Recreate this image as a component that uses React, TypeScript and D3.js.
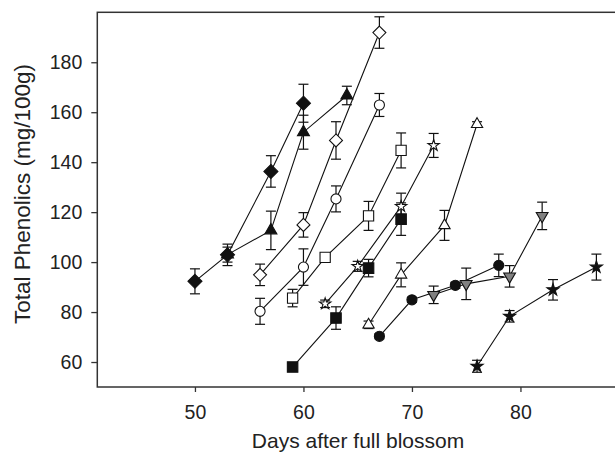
import React, { useRef, useEffect } from "react";
import * as d3 from "d3";

// each series: day after full blossom, total phenolics (mg/100g), error
const filledDiamond = [
  { day: 50, value: 92.3, err: 5 },
  { day: 53, value: 102.9, err: 4.3 },
  { day: 57, value: 136.3, err: 6.3 },
  { day: 60, value: 163.6, err: 7.6 },
];
const filledTriangle = [
  { day: 53, value: 103, err: 3 },
  { day: 57, value: 112.7, err: 7.7 },
  { day: 60, value: 152, err: 6.8 },
  { day: 64, value: 166.7, err: 3.7 },
];
const openDiamond = [
  { day: 56, value: 94.9, err: 4.3 },
  { day: 60, value: 114.9, err: 4.9 },
  { day: 63, value: 148.7, err: 7.5 },
  { day: 67, value: 191.9, err: 6.3 },
];
const openCircle = [
  { day: 56, value: 80.3, err: 5.2 },
  { day: 60, value: 98, err: 7.3 },
  { day: 63, value: 125.3, err: 5.2 },
  { day: 67, value: 162.9, err: 4.6 },
];
const openSquare = [
  { day: 59, value: 85.6, err: 3.5 },
  { day: 62, value: 101.9, err: 1 },
  { day: 66, value: 118.5, err: 5.8 },
  { day: 69, value: 144.7, err: 7 },
];
const openStar = [
  { day: 62, value: 83.3, err: 1.5 },
  { day: 65, value: 98.3, err: 2 },
  { day: 69, value: 122.3, err: 5.3 },
  { day: 72, value: 146.7, err: 4.8 },
];
const filledSquare = [
  { day: 59, value: 58, err: 1.5 },
  { day: 63, value: 77.6, err: 4.5 },
  { day: 66, value: 97.6, err: 3.5 },
  { day: 69, value: 117.2, err: 6.5 },
];
const openTriangle = [
  { day: 66, value: 74.9, err: 1.5 },
  { day: 69, value: 94.9, err: 4.8 },
  { day: 73, value: 114.7, err: 6 },
  { day: 76, value: 155.2, err: 1 },
];
const filledCircle = [
  { day: 67, value: 70.3, err: 1 },
  { day: 70, value: 84.9, err: 1 },
  { day: 74, value: 90.7, err: 1.2 },
  { day: 78, value: 98.7, err: 4.5 },
];
const greyTriangleDown = [
  { day: 72, value: 86.9, err: 3.5 },
  { day: 75, value: 91.3, err: 6.3 },
  { day: 79, value: 94.3, err: 4.3 },
  { day: 82, value: 118.5, err: 5.5 },
];
const filledStar = [
  { day: 76, value: 58.3, err: 2.4 },
  { day: 79, value: 78.3, err: 2.3 },
  { day: 83, value: 88.9, err: 4.1 },
  { day: 87, value: 98, err: 5.2 },
];

const yTicks = [60, 80, 100, 120, 140, 160, 180];
const xTicks = [50, 60, 70, 80];

// square rotated 45deg, r = half diagonal
const diamond = {
  draw(ctx, size) {
    const r = Math.sqrt(size / 2);
    ctx.moveTo(0, -r);
    ctx.lineTo(r, 0);
    ctx.lineTo(0, r);
    ctx.lineTo(-r, 0);
    ctx.closePath();
  },
};

const series = [
  { data: openDiamond, type: diamond, size: 84, fill: "#fff" },
  { data: openCircle, type: d3.symbolCircle, size: 80, fill: "#fff" },
  { data: openSquare, type: d3.symbolSquare, size: 105, fill: "#fff" },
  { data: openStar, type: d3.symbolStar, size: 40, fill: "#fff" },
  { data: filledSquare, type: d3.symbolSquare, size: 110, fill: "#111" },
  { data: openTriangle, type: d3.symbolTriangle, size: 55, fill: "#fff" },
  { data: filledCircle, type: d3.symbolCircle, size: 80, fill: "#111" },
  { data: greyTriangleDown, type: d3.symbolTriangle, size: 60, fill: "#808080", rotate: 180 },
  { data: filledStar, type: d3.symbolStar, size: 45, fill: "#111" },
  { data: filledTriangle, type: d3.symbolTriangle, size: 62, fill: "#111" },
  { data: filledDiamond, type: diamond, size: 98, fill: "#111" },
];

const FONT = "'Liberation Sans', Arial, Helvetica, sans-serif";
const INK = "#222";

const PhenolicsChart = () => {
  const ref = useRef(null);

  useEffect(() => {
    const svg = d3.select(ref.current);
    svg.selectAll("*").remove();

    const left = 97.3, top = 12.3, bottom = 387;
    const x = d3.scaleLinear().domain([41, 90]).range([left, left + 49 * 10.85]);
    const y = d3.scaleLinear().domain([50, 200]).range([bottom, top]);

    // frame (right side runs off the picture)
    svg
      .append("rect")
      .attr("x", left)
      .attr("y", top)
      .attr("width", 560)
      .attr("height", bottom - top)
      .attr("fill", "none")
      .attr("stroke", "#333")
      .attr("stroke-width", 1.5);

    const yAxis = svg
      .append("g")
      .attr("transform", `translate(${left},0)`)
      .call(d3.axisLeft(y).tickValues(yTicks).tickSize(6).tickPadding(9));
    const xAxis = svg
      .append("g")
      .attr("transform", `translate(0,${bottom})`)
      .call(d3.axisBottom(x).tickValues(xTicks).tickSize(5).tickPadding(12.8));

    [yAxis, xAxis].forEach((g) => {
      g.select(".domain").remove();
      g.selectAll("line").attr("stroke", "#333").attr("stroke-width", 1.3);
      g.selectAll("text")
        .attr("fill", INK)
        .style("font-family", FONT)
        .style("font-size", "19.5px");
    });

    svg
      .append("text")
      .attr("x", 358)
      .attr("y", 448)
      .attr("text-anchor", "middle")
      .attr("fill", INK)
      .style("font-family", FONT)
      .style("font-size", "21px")
      .text("Days after full blossom");

    svg
      .append("text")
      .attr("transform", "translate(30,194) rotate(-90)")
      .attr("text-anchor", "middle")
      .attr("fill", INK)
      .style("font-family", FONT)
      .style("font-size", "22.5px")
      .text("Total Phenolics (mg/100g)");

    const line = d3
      .line()
      .x((d) => x(d.day))
      .y((d) => y(d.value));

    // connecting lines
    series.forEach((s) => {
      svg
        .append("path")
        .attr("d", line(s.data))
        .attr("fill", "none")
        .attr("stroke", "#111")
        .attr("stroke-width", 1.1);
    });

    // error bars
    const cap = 5;
    series.forEach((s) => {
      const g = svg.append("g").attr("stroke", "#111").attr("stroke-width", 1.2);
      s.data.forEach((d) => {
        const cx = x(d.day);
        const y0 = y(d.value - d.err);
        const y1 = y(d.value + d.err);
        g.append("line").attr("x1", cx).attr("x2", cx).attr("y1", y0).attr("y2", y1);
        g.append("line").attr("x1", cx - cap).attr("x2", cx + cap).attr("y1", y0).attr("y2", y0);
        g.append("line").attr("x1", cx - cap).attr("x2", cx + cap).attr("y1", y1).attr("y2", y1);
      });
    });

    // markers
    series.forEach((s) => {
      const sym = d3.symbol().type(s.type).size(s.size);
      svg
        .append("g")
        .selectAll("path")
        .data(s.data)
        .enter()
        .append("path")
        .attr("d", sym)
        .attr(
          "transform",
          (d) => `translate(${x(d.day)},${y(d.value)})${s.rotate ? ` rotate(${s.rotate})` : ""}`
        )
        .attr("fill", s.fill)
        .attr("stroke", "#111")
        .attr("stroke-width", 1.1);
    });
  }, []);

  return (
    <svg
      ref={ref}
      width={615}
      height={455}
      style={{ position: "absolute", left: 0, top: 0, background: "#fff" }}
    />
  );
};

export default function App() {
  return <PhenolicsChart />;
}
